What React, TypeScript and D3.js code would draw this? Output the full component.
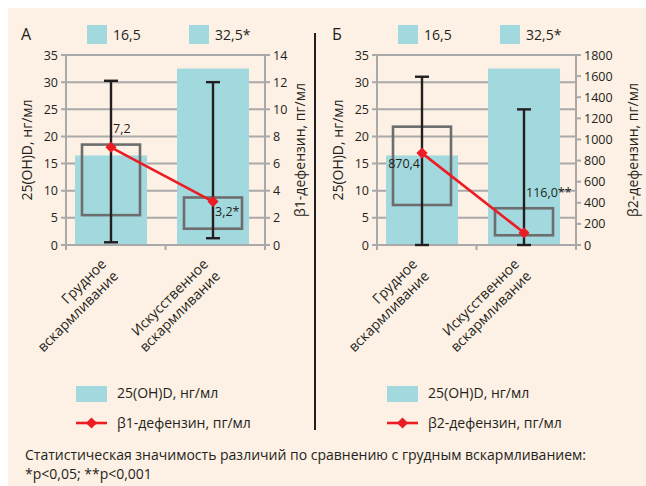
import * as d3 from 'd3';

// feeding groups (x categories), split in two lines as in the figure
const categoryLines = [
  ['Грудное', 'вскармливание'],
  ['Искусственное', 'вскармливание'],
];

// 25(OH)D, нг/мл — bars (same in both panels)
const vitD = [16.5, 32.5];
const vitDLabels = ['16,5', '32,5*'];
const vitDTicks = [0, 5, 10, 15, 20, 25, 30, 35];

// β1-дефензин, пг/мл
const beta1Median = [7.2, 3.2];
const beta1Labels = ['7,2', '3,2*'];
const beta1Quartiles = [[2.2, 7.4], [1.2, 3.5]];
const beta1Range = [[0.2, 12.1], [0.5, 12.0]];
const beta1Ticks = [0, 2, 4, 6, 8, 10, 12, 14];

// β2-дефензин, пг/мл
const beta2Median = [870.4, 116.0];
const beta2Labels = ['870,4', '116,0**'];
const beta2Quartiles = [[379, 1121], [92, 348]];
const beta2Range = [[0, 1594], [0, 1285]];
const beta2Ticks = [0, 200, 400, 600, 800, 1000, 1200, 1400, 1600, 1800];

const FONT = "'Open Sans', 'Noto Sans', sans-serif";
const INK = '#231f20';
const BAR = '#a2d9de';
const RED = '#ec1c24';
const GRID = '#a9a9a9';
const BOX = '#6d6d6d';

interface PanelProps {
  letter: string;
  x0: number;
  x1: number;
  median: number[];
  labels: string[];
  quartiles: number[][];
  range: number[][];
  ticks: number[];
  rightTitle: string;
  rightTitleOffset: number;
  labelPos: { dx: number; dy: number; anchor: string }[];
}

function Panel(p: PanelProps) {
  const top = 55;
  const bottom = 245;

  const x = d3.scaleBand<number>()
    .domain([0, 1])
    .range([p.x0, p.x1])
    .paddingInner(0.294)
    .paddingOuter(0.1225)
    .align(0.36);
  const yL = d3.scaleLinear().domain([0, 35]).range([bottom, top]);
  const yR = d3.scaleLinear().domain([0, p.ticks[p.ticks.length - 1]]).range([bottom, top]);
  const cx = (i: number) => (x(i) as number) + x.bandwidth() / 2;

  const line = d3.line<number>().x((_, i) => cx(i)).y(d => yR(d));
  const diamond = d3.symbol().type(d3.symbolSquare).size(62)();
  const mid = (p.x0 + p.x1) / 2;
  const boxW = 58;

  return (
    <g fontFamily={FONT} fill={INK}>
      <text x={p.x0 - 45} y={40} fontSize={16}>{p.letter}</text>

      {/* value labels above the plot */}
      {vitD.map((_, i) => (
        <g key={'lg' + i} transform={`translate(${cx(i) - 24},0)`}>
          <rect x={0} y={25} width={20} height={19} fill={BAR} />
          <text x={26} y={40} fontSize={14}>{vitDLabels[i]}</text>
        </g>
      ))}

      {/* grid + left ticks */}
      {vitDTicks.map(t => (
        <g key={'gl' + t}>
          <line x1={p.x0 - 5} x2={p.x1} y1={yL(t)} y2={yL(t)} stroke={GRID} strokeWidth={2} />
          <text x={p.x0 - 8} y={yL(t)} dy="0.36em" textAnchor="end" fontSize={12.5}>{t}</text>
        </g>
      ))}
      {p.ticks.map(t => (
        <g key={'gr' + t}>
          <line x1={p.x1} x2={p.x1 + 5} y1={yR(t)} y2={yR(t)} stroke={GRID} strokeWidth={2} />
          <text x={p.x1 + 8} y={yR(t)} dy="0.36em" fontSize={12.5}>{t}</text>
        </g>
      ))}

      {/* bars */}
      {vitD.map((v, i) => (
        <rect key={'b' + i} x={x(i)} y={yL(v)} width={x.bandwidth()} height={bottom - yL(v)} fill={BAR} />
      ))}

      {/* axes frame */}
      <line x1={p.x0} x2={p.x0} y1={top} y2={bottom} stroke={GRID} strokeWidth={2} />
      <line x1={p.x1} x2={p.x1} y1={top} y2={bottom} stroke={GRID} strokeWidth={2} />
      <line x1={p.x0 - 5} x2={p.x1 + 5} y1={bottom} y2={bottom} stroke={GRID} strokeWidth={2} />
      {[p.x0, mid, p.x1].map((t, i) => (
        <line key={'bt' + i} x1={t} x2={t} y1={bottom} y2={bottom + 5} stroke={GRID} strokeWidth={2} />
      ))}

      {/* interquartile boxes */}
      {p.quartiles.map((q, i) => (
        <rect key={'q' + i} x={cx(i) - boxW / 2} y={yR(q[1])} width={boxW} height={yR(q[0]) - yR(q[1])}
          fill="none" stroke={BOX} strokeWidth={2.6} />
      ))}

      {/* min-max whiskers */}
      {p.range.map((r, i) => (
        <g key={'w' + i} stroke={INK} strokeWidth={2.4}>
          <line x1={cx(i)} x2={cx(i)} y1={yR(r[0])} y2={yR(r[1])} />
          <line x1={cx(i) - 7} x2={cx(i) + 7} y1={yR(r[0])} y2={yR(r[0])} />
          <line x1={cx(i) - 7} x2={cx(i) + 7} y1={yR(r[1])} y2={yR(r[1])} />
        </g>
      ))}

      {/* median line */}
      <path d={line(p.median) || ''} fill="none" stroke={RED} strokeWidth={2.6} />
      {p.median.map((m, i) => (
        <path key={'d' + i} d={diamond || ''} transform={`translate(${cx(i)},${yR(m)}) rotate(45)`} fill={RED} />
      ))}
      {p.median.map((m, i) => (
        <text key={'ml' + i} x={cx(i) + p.labelPos[i].dx} y={yR(m) + p.labelPos[i].dy}
          textAnchor={p.labelPos[i].anchor} fontSize={12.5}>{p.labels[i]}</text>
      ))}

      {/* category labels */}
      {categoryLines.map((lines, i) => (
        <text key={'c' + i} transform={`translate(${cx(i) - 4},265) rotate(-45)`} textAnchor="end" fontSize={14}>
          {lines.map((s, j) => (
            <tspan key={j} x={0} dy={j === 0 ? 0 : 17}>{s}</tspan>
          ))}
        </text>
      ))}

      {/* axis titles */}
      <text transform={`translate(${p.x0 - 39},${(top + bottom) / 2}) rotate(-90)`} textAnchor="middle"
        dy="0.35em" fontSize={14}>25(OH)D, нг/мл</text>
      <text transform={`translate(${p.x1 + p.rightTitleOffset},${(top + bottom) / 2}) rotate(-90)`}
        textAnchor="middle" dy="0.35em" fontSize={14}>{p.rightTitle}</text>

      {/* legend */}
      <rect x={p.x0 + 10} y={386} width={31} height={16} fill={BAR} />
      <text x={p.x0 + 51} y={398} fontSize={14}>25(OH)D, нг/мл</text>
      <line x1={p.x0 + 10} x2={p.x0 + 41} y1={423} y2={423} stroke={RED} strokeWidth={2.6} />
      <path d={diamond || ''} transform={`translate(${p.x0 + 25.5},423) rotate(45)`} fill={RED} />
      <text x={p.x0 + 51} y={428} fontSize={14}>{p.rightTitle}</text>
    </g>
  );
}

export default function App() {
  return (
    <svg width={646} height={486} style={{ position: 'absolute', left: 0, top: 0, background: '#fff' }}>
      <rect x={8} y={8} width={638} height={478} fill="#fdf0e4" />
      <Panel
        letter="А"
        x0={66}
        x1={265}
        median={beta1Median}
        labels={beta1Labels}
        quartiles={beta1Quartiles}
        range={beta1Range}
        ticks={beta1Ticks}
        rightTitle="β1-дефензин, пг/мл"
        rightTitleOffset={35}
        labelPos={[{ dx: 2, dy: -14, anchor: 'start' }, { dx: 2, dy: 14, anchor: 'start' }]}
      />
      <Panel
        letter="Б"
        x0={377}
        x1={576}
        median={beta2Median}
        labels={beta2Labels}
        quartiles={beta2Quartiles}
        range={beta2Range}
        ticks={beta2Ticks}
        rightTitle="β2-дефензин, пг/мл"
        rightTitleOffset={57}
        labelPos={[{ dx: -2, dy: 15, anchor: 'end' }, { dx: 2, dy: -36, anchor: 'start' }]}
      />
      <line x1={315} x2={315} y1={33} y2={430} stroke={INK} strokeWidth={2} />
      <g fontFamily={FONT} fill={INK} fontSize={14}>
        <text x={25} y={460}>Статистическая значимость различий по сравнению с грудным вскармливанием:</text>
        <text x={25} y={479}>*p&lt;0,05; **p&lt;0,001</text>
      </g>
    </svg>
  );
}
